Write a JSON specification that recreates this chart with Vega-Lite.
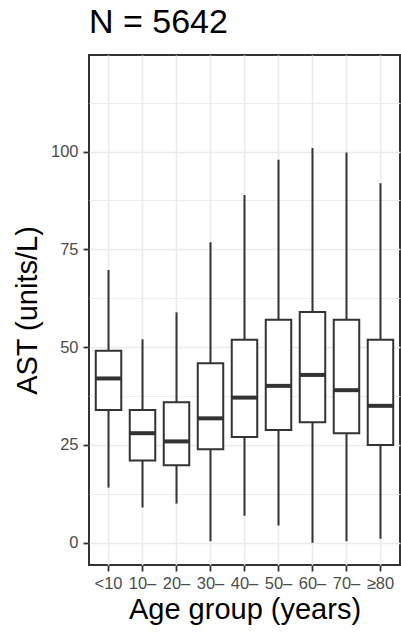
{
  "$schema": "https://vega.github.io/schema/vega-lite/v6.json",
  "width": 311,
  "height": 510,
  "autosize": {"type": "none"},
  "padding": {"left": 89, "top": 55, "right": 1, "bottom": 72},
  "background": "white",
  "title": {
    "text": "N = 5642",
    "anchor": "start",
    "frame": "group",
    "font": "Liberation Sans",
    "fontSize": 34,
    "fontWeight": "normal",
    "color": "#000000",
    "offset": 15
  },
  "data": {
    "values": [
      {"age": "<10", "lower": 14.1, "q1": 33.9, "median": 42.0, "q3": 49.1, "upper": 69.7},
      {"age": "10–", "lower": 9.0, "q1": 21.0, "median": 28.0, "q3": 33.9, "upper": 52.0},
      {"age": "20–", "lower": 10.0, "q1": 19.8, "median": 25.9, "q3": 35.9, "upper": 58.9},
      {"age": "30–", "lower": 0.4, "q1": 23.9, "median": 31.8, "q3": 45.9, "upper": 76.8},
      {"age": "40–", "lower": 6.9, "q1": 27.0, "median": 37.1, "q3": 51.9, "upper": 88.9},
      {"age": "50–", "lower": 4.4, "q1": 28.8, "median": 40.1, "q3": 57.0, "upper": 97.9},
      {"age": "60–", "lower": 0.0, "q1": 30.8, "median": 42.9, "q3": 59.0, "upper": 100.9},
      {"age": "70–", "lower": 0.4, "q1": 28.0, "median": 39.0, "q3": 57.0, "upper": 99.8},
      {"age": "≥80", "lower": 1.0, "q1": 25.0, "median": 35.0, "q3": 51.9, "upper": 91.9}
    ]
  },
  "encoding": {
    "x": {
      "field": "age",
      "type": "nominal",
      "sort": null,
      "scale": {"paddingInner": 0, "paddingOuter": 0.074},
      "axis": {
        "title": "Age group (years)",
        "labelAngle": 0,
        "bandPosition": 0.5,
        "grid": true,
        "gridColor": "#EBEBEB",
        "gridWidth": 1.6,
        "domain": false,
        "ticks": true,
        "tickColor": "#333333",
        "tickWidth": 1.8,
        "tickSize": 6,
        "labelPadding": 4,
        "labelFont": "Liberation Sans",
        "labelFontSize": 16.5,
        "labelColor": "#4D4D4D",
        "titleFont": "Liberation Sans",
        "titleFontSize": 29,
        "titleFontWeight": "normal",
        "titleColor": "#000000",
        "titlePadding": 4
      }
    }
  },
  "layer": [
    {
      "mark": {"type": "rule", "color": "#333333", "strokeWidth": 2},
      "encoding": {
        "y": {
          "field": "lower",
          "type": "quantitative",
          "scale": {"domain": [-5.7, 124.7], "nice": false, "zero": false},
          "axis": {
            "orient": "right",
            "values": [12.5, 37.5, 62.5, 87.5, 112.5],
            "grid": true,
            "gridColor": "#EBEBEB",
            "gridWidth": 0.9,
            "labels": false,
            "ticks": false,
            "domain": false,
            "title": null
          }
        },
        "y2": {"field": "upper"}
      }
    },
    {
      "mark": {"type": "bar", "fill": "white", "stroke": "#333333", "strokeWidth": 2, "width": {"band": 0.75}},
      "encoding": {
        "y": {
          "field": "q1",
          "type": "quantitative",
          "axis": {
            "orient": "left",
            "title": "AST (units/L)",
            "values": [0, 25, 50, 75, 100],
            "grid": true,
            "gridColor": "#EBEBEB",
            "gridWidth": 1.6,
            "domain": false,
            "tickColor": "#333333",
            "tickWidth": 1.8,
            "tickSize": 6,
            "labelPadding": 5,
            "labelFont": "Liberation Sans",
            "labelFontSize": 16.5,
            "labelColor": "#4D4D4D",
            "titleFont": "Liberation Sans",
            "titleFontSize": 29,
            "titleFontWeight": "normal",
            "titleColor": "#000000",
            "titlePadding": 8
          }
        },
        "y2": {"field": "q3"}
      }
    },
    {
      "mark": {"type": "tick", "color": "#333333", "thickness": 4, "size": 27, "opacity": 1},
      "encoding": {
        "y": {"field": "median", "type": "quantitative", "axis": null}
      }
    }
  ],
  "resolve": {"axis": {"y": "independent"}},
  "config": {
    "view": {"stroke": "#333333", "strokeWidth": 2}
  }
}
